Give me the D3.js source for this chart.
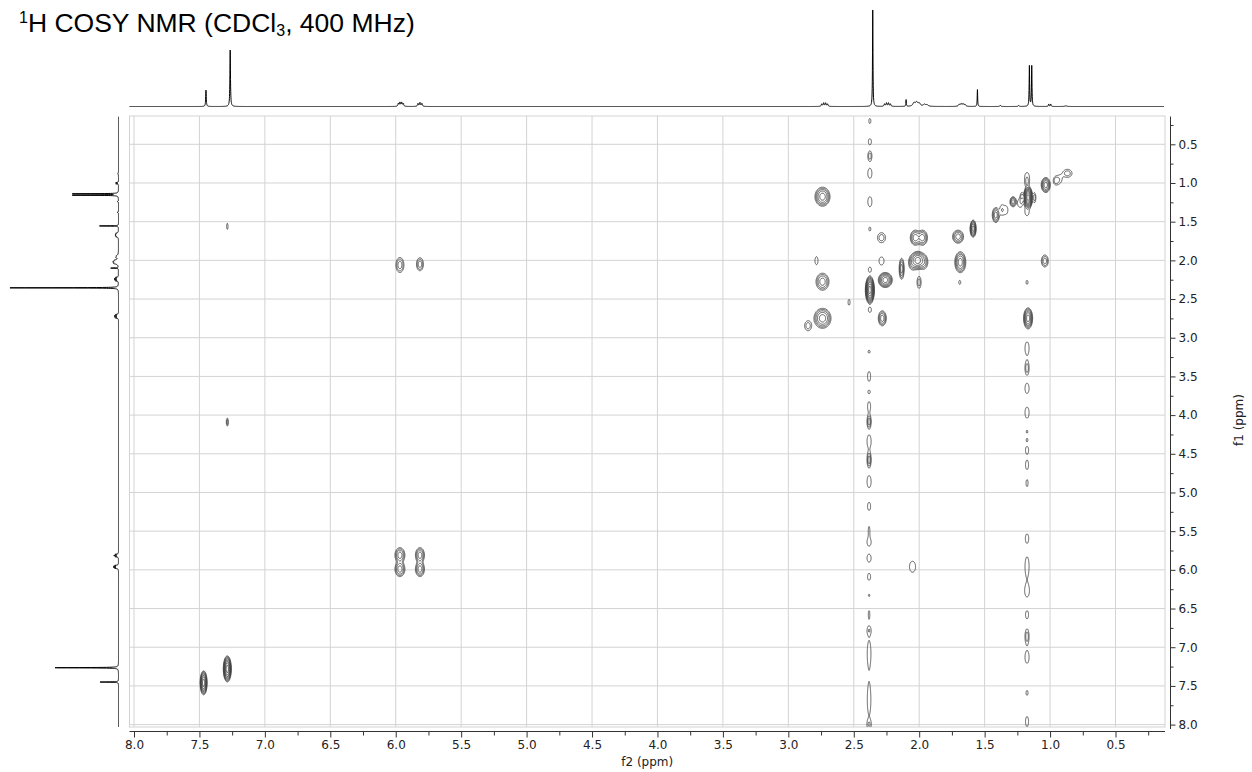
<!DOCTYPE html>
<html>
<head>
<meta charset="utf-8">
<script src="https://cdn.jsdelivr.net/npm/d3@7"></script>
<style>
html,body{margin:0;padding:0;background:#fff;}
svg{display:block;}
</style>
</head>
<body>
<svg id="chart" width="1252" height="772"></svg>
<script>
// ---------------- DATA ----------------
const f2Ticks = [8.0,7.5,7.0,6.5,6.0,5.5,5.0,4.5,4.0,3.5,3.0,2.5,2.0,1.5,1.0,0.5];
const f1Ticks = [0.5,1.0,1.5,2.0,2.5,3.0,3.5,4.0,4.5,5.0,5.5,6.0,6.5,7.0,7.5,8.0];
const f2Minor = [7.75,7.25,6.75,6.25,5.75,5.25,4.75,4.25,3.75,3.25,2.75,2.25,1.75,1.25,0.75,0.25];
const f1Minor = [0.25,0.75,1.25,1.75,2.25,2.75,3.25,3.75,4.25,4.75,5.25,5.75,6.25,6.75,7.25,7.75];

// 1D 1H spectrum: [ppm, relative intensity, half-width (ppm)]
const spectrumPeaks = [
  [7.45,17,0.0025],[7.265,58.5,0.0025],
  [5.98,3,0.004],[5.968,4,0.004],[5.955,4,0.004],[5.943,3,0.004],
  [5.83,3,0.004],[5.815,4,0.004],[5.80,3,0.004],
  [2.745,2.5,0.004],[2.73,3.5,0.004],[2.715,3.5,0.004],[2.70,2.5,0.004],
  [2.355,100,0.002],
  [2.265,2.5,0.004],[2.25,3.5,0.004],[2.235,3.5,0.004],[2.22,2.5,0.004],
  [2.10,7,0.002],
  [2.04,3.5,0.01],[2.02,4,0.01],[2.0,3,0.01],[1.96,2,0.01],[1.94,1.5,0.01],
  [1.695,2,0.006],[1.68,2.5,0.006],[1.665,2.5,0.006],[1.65,2,0.006],
  [1.555,17.5,0.002],
  [1.38,1.2,0.004],[1.24,1,0.004],
  [1.158,42,0.0022],[1.14,42,0.0022],
  [1.01,2.5,0.003],[0.995,2.5,0.003],
  [0.88,0.6,0.01]
];

// COSY contour peaks: [f2 ppm, f1 ppm, f2 width (ppm), f1 width (ppm), contour levels]
const aromaticCross = [
  [7.468,7.46,0.053,0.31,7],
  [7.287,7.28,0.061,0.336,8],
  [7.287,1.56,0.011,0.078,1],
  [7.287,4.09,0.015,0.103,2]
];
const olefinCross = [
  [5.968,5.81,0.076,0.194,4],[5.968,5.99,0.076,0.194,4],
  [5.815,5.81,0.069,0.194,4],[5.815,5.99,0.069,0.194,4],
  [5.968,2.06,0.061,0.194,3],[5.815,2.05,0.053,0.168,3],
  [2.051,5.96,0.046,0.142,1]
];
const aliphaticCross = [
  [2.739,1.177,0.115,0.246,5],[2.739,2.276,0.099,0.22,4],[2.739,2.749,0.13,0.258,5],
  [2.849,2.845,0.053,0.129,2],[2.785,2.004,0.023,0.103,1],[2.536,2.542,0.015,0.078,1],
  [2.377,2.383,0.069,0.36,9],[2.259,2.254,0.107,0.194,6],[2.134,2.109,0.038,0.271,4],
  [2.05,2.03,0.061,0.181,3],[2.01,2.0,0.107,0.233,6],[1.965,2.02,0.061,0.181,3],
  [2.03,1.707,0.076,0.194,4],[1.975,1.707,0.076,0.194,4],
  [2.288,1.707,0.061,0.129,2],[2.288,2.008,0.038,0.103,1],[2.001,2.284,0.031,0.155,2],
  [1.703,1.694,0.084,0.168,4],[1.686,2.024,0.084,0.271,5],[1.588,1.59,0.046,0.22,6],
  [1.69,2.284,0.015,0.052,1],[1.176,2.284,0.015,0.052,1],
  [1.168,2.749,0.069,0.271,6],[2.282,2.749,0.061,0.194,4],[1.04,2.008,0.053,0.155,3]
];
const diagonalCross = [
  [1.415,1.414,0.053,0.194,4],[1.371,1.349,0.023,0.103,1],[1.338,1.35,0.031,0.103,1],
  [1.283,1.242,0.046,0.129,4],[1.232,1.26,0.031,0.103,1],
  [1.168,1.188,0.069,0.284,9],[1.12,1.19,0.023,0.129,2],[1.215,1.19,0.023,0.129,2],
  [1.176,0.918,0.031,0.103,1],[1.176,1.004,0.023,0.078,1],[1.176,1.371,0.031,0.103,1],
  [1.033,1.026,0.069,0.194,5],[0.956,0.97,0.038,0.103,2],[0.926,0.952,0.031,0.09,1],
  [0.867,0.875,0.069,0.103,2]
];
// t1-noise streaks of the strong singlet (2.38) and methyl doublet (1.17)
const noiseStreak238 = [
  [2.377,0.199,0.015,0.065,1],[2.377,0.466,0.023,0.078,1],[2.377,0.651,0.031,0.129,2],
  [2.377,0.875,0.031,0.129,1],[2.377,1.242,0.031,0.129,1],[2.377,1.595,0.015,0.052,1],
  [2.377,2.12,0.023,0.065,1],[2.377,2.64,0.023,0.065,1],
  [2.383,3.18,0.015,0.039,1],[2.383,3.50,0.023,0.129,1],[2.383,3.70,0.015,0.039,1],
  [2.383,3.89,0.023,0.129,1],[2.383,4.085,0.031,0.168,3],[2.383,4.34,0.031,0.168,1],
  [2.383,4.58,0.031,0.194,3],[2.383,4.86,0.031,0.155,1],[2.383,5.18,0.023,0.103,1],
  [2.383,5.49,0.011,0.103,1],[2.383,5.64,0.031,0.10,1],[2.383,5.85,0.031,0.10,1],
  [2.383,6.09,0.023,0.09,1],[2.383,6.33,0.011,0.03,1],[2.383,6.58,0.011,0.103,1],
  [2.383,6.78,0.023,0.08,1],[2.383,7.07,0.027,0.30,1],[2.383,7.68,0.027,0.38,1],
  [2.383,8.0,0.023,0.078,1]
];
const noiseStreak117 = [
  [1.176,3.137,0.031,0.168,1],[1.176,3.395,0.031,0.168,2],[1.176,3.654,0.031,0.129,1],
  [1.176,3.969,0.031,0.142,1],[1.176,4.215,0.011,0.04,1],[1.176,4.32,0.011,0.04,1],
  [1.176,4.45,0.023,0.09,1],[1.176,4.645,0.023,0.116,1],[1.176,4.88,0.015,0.09,1],
  [1.176,5.59,0.023,0.103,1],[1.176,5.96,0.031,0.258,1],[1.176,6.28,0.031,0.129,1],
  [1.176,6.58,0.023,0.103,1],[1.176,6.86,0.031,0.194,2],[1.176,7.13,0.031,0.155,1],
  [1.176,7.59,0.015,0.065,1],[1.176,7.96,0.023,0.129,1]
];

// ---------------- LAYOUT ----------------
const plot = {left:129.5, right:1165, top:116, bottom:727};
const x = d3.scaleLinear().domain([8.0, 0.5]).range([134, 1115.5]);
const y = d3.scaleLinear().domain([0.5, 8.0]).range([144.3, 724.6]);
const topI = d3.scaleLinear().domain([0, 100]).range([106.5, 10]);
const leftI = d3.scaleLinear().domain([0, 100]).range([118.5, 10]);

const svg = d3.select('#chart');
svg.append('rect').attr('width',1252).attr('height',772).attr('fill','#fff');

const defs = svg.append('defs');
defs.append('clipPath').attr('id','plotclip').append('rect')
  .attr('x',plot.left).attr('y',plot.top)
  .attr('width',plot.right-plot.left).attr('height',plot.bottom-plot.top);

// Title
const title = svg.append('text').attr('x',19).attr('y',32)
  .attr('font-family','"Liberation Sans", Arial, sans-serif').attr('font-size',26.5).attr('fill','#000');
title.append('tspan').attr('font-size',16).attr('dy',-9.5).text('1');
title.append('tspan').attr('dy',9.5).text('H COSY NMR (CDCl');
title.append('tspan').attr('font-size',16).attr('dy',4).text('3');
title.append('tspan').attr('dy',-4).text(', 400 MHz)');

// Grid + frame
const gGrid = svg.append('g').attr('stroke','#d3d3d3').attr('stroke-width',1);
gGrid.selectAll('line.v').data(f2Ticks).join('line').attr('class','v')
  .attr('x1',d=>x(d)).attr('x2',d=>x(d)).attr('y1',plot.top).attr('y2',plot.bottom);
gGrid.selectAll('line.h').data(f1Ticks).join('line').attr('class','h')
  .attr('y1',d=>y(d)).attr('y2',d=>y(d)).attr('x1',plot.left).attr('x2',plot.right);
gGrid.append('rect').attr('x',plot.left).attr('y',plot.top)
  .attr('width',plot.right-plot.left).attr('height',plot.bottom-plot.top).attr('fill','none');

// ---------------- CONTOURS ----------------
const allCross = [].concat(aromaticCross, olefinCross, aliphaticCross, diagonalCross, noiseStreak238, noiseStreak117);
const step = 0.5, pad = 6;
const gx0 = plot.left - pad, gy0 = plot.top - pad;
const nx = Math.ceil((plot.right - plot.left + 2*pad)/step) + 1;
const ny = Math.ceil((plot.bottom - plot.top + 2*pad)/step) + 1;
const grid = new Float64Array(nx*ny);
const ratio = 1.7, topFactor = 1.4;
allCross.forEach(([f2,f1,w2,w1,n]) => {
  const A = topFactor*Math.pow(ratio, n-1);
  const k = Math.sqrt(2*Math.log(A));
  const cx = x(f2), cy = y(f1);
  const sx = Math.abs(x(f2 - w2/2) - cx)/k;
  const sy = Math.abs(y(f1 + w1/2) - cy)/k;
  const reach = Math.sqrt(2*Math.log(A/0.005));
  const i0 = Math.max(0, Math.floor((cx - reach*sx - gx0)/step));
  const i1 = Math.min(nx-1, Math.ceil((cx + reach*sx - gx0)/step));
  const j0 = Math.max(0, Math.floor((cy - reach*sy - gy0)/step));
  const j1 = Math.min(ny-1, Math.ceil((cy + reach*sy - gy0)/step));
  for (let j=j0;j<=j1;j++){
    const dy = (gy0 + j*step - cy)/sy;
    for (let i=i0;i<=i1;i++){
      const dx = (gx0 + i*step - cx)/sx;
      grid[j*nx+i] += A*Math.exp(-0.5*(dx*dx+dy*dy));
    }
  }
});
const thresholds = d3.range(10).map(kk => Math.pow(ratio, kk));
const contours = d3.contours().size([nx, ny]).thresholds(thresholds)(grid);
const proj = d3.geoIdentity().scale(step).translate([gx0 - 0.5*step, gy0 - 0.5*step]);
const cpath = d3.geoPath(proj);
svg.append('g').attr('clip-path','url(#plotclip)')
  .selectAll('path').data(contours).join('path')
  .attr('d', cpath).attr('fill','none').attr('stroke','#3a3a3a').attr('stroke-width',0.8);

// ---------------- 1D PROJECTIONS ----------------
function spec(p){
  let v = 0;
  for (const [c,h,w] of spectrumPeaks){ const d=(p-c)/w; v += h/(1+d*d); }
  return v;
}
function samples(a, b){
  const pts = d3.range(a, b, -0.0008);
  spectrumPeaks.forEach(s => { if (s[0] < a && s[0] > b) pts.push(s[0]); });
  return pts.sort((p,q)=>q-p);
}
const topPts = samples(x.invert(plot.left), x.invert(1164));
svg.append('path').datum(topPts)
  .attr('d', d3.line().x(p=>x(p)).y(p=>topI(spec(p))))
  .attr('fill','none').attr('stroke','#000').attr('stroke-width',1);

const leftPts = samples(y.invert(plot.bottom), y.invert(plot.top+0.7));
svg.append('path').datum(leftPts)
  .attr('d', d3.line().x(p=>leftI(spec(p))).y(p=>y(p)))
  .attr('fill','none').attr('stroke','#000').attr('stroke-width',1);

// ---------------- AXES ----------------
const fmt = d3.format('.1f');
const axisFont = '"DejaVu Sans", Verdana, sans-serif';
const xAxisY = 731.5;
const gx = svg.append('g').attr('transform',`translate(0,${xAxisY})`)
  .call(d3.axisBottom(x).tickValues(f2Ticks).tickFormat(fmt).tickSize(6).tickPadding(3).tickSizeOuter(0));
gx.select('.domain').remove();
const gxm = svg.append('g').attr('transform',`translate(0,${xAxisY})`)
  .call(d3.axisBottom(x).tickValues(f2Minor).tickFormat('').tickSize(4).tickSizeOuter(0));
gxm.select('.domain').remove();
svg.append('line').attr('x1',plot.left).attr('x2',plot.right).attr('y1',xAxisY).attr('y2',xAxisY)
  .attr('stroke','#333');

const yAxisX = 1170.5;
const gy = svg.append('g').attr('transform',`translate(${yAxisX},0)`)
  .call(d3.axisRight(y).tickValues(f1Ticks).tickFormat(fmt).tickSize(5).tickPadding(3).tickSizeOuter(0));
gy.select('.domain').remove();
const gym = svg.append('g').attr('transform',`translate(${yAxisX},0)`)
  .call(d3.axisRight(y).tickValues(f1Minor).tickFormat('').tickSize(3).tickSizeOuter(0));
gym.select('.domain').remove();
svg.append('line').attr('x1',yAxisX).attr('x2',yAxisX).attr('y1',plot.top+0.5).attr('y2',729)
  .attr('stroke','#333');

svg.selectAll('.tick line').attr('stroke','#333');
svg.selectAll('.tick text').attr('font-family',axisFont).attr('font-size',12).attr('fill','#222');

svg.append('text').attr('x',(plot.left+plot.right)/2).attr('y',766)
  .attr('text-anchor','middle').attr('font-family',axisFont).attr('font-size',12).attr('fill','#222')
  .text('f2 (ppm)');
svg.append('text').attr('transform','translate(1243,420) rotate(-90)')
  .attr('text-anchor','middle').attr('font-family',axisFont).attr('font-size',12).attr('fill','#222')
  .text('f1 (ppm)');
</script>
</body>
</html>
